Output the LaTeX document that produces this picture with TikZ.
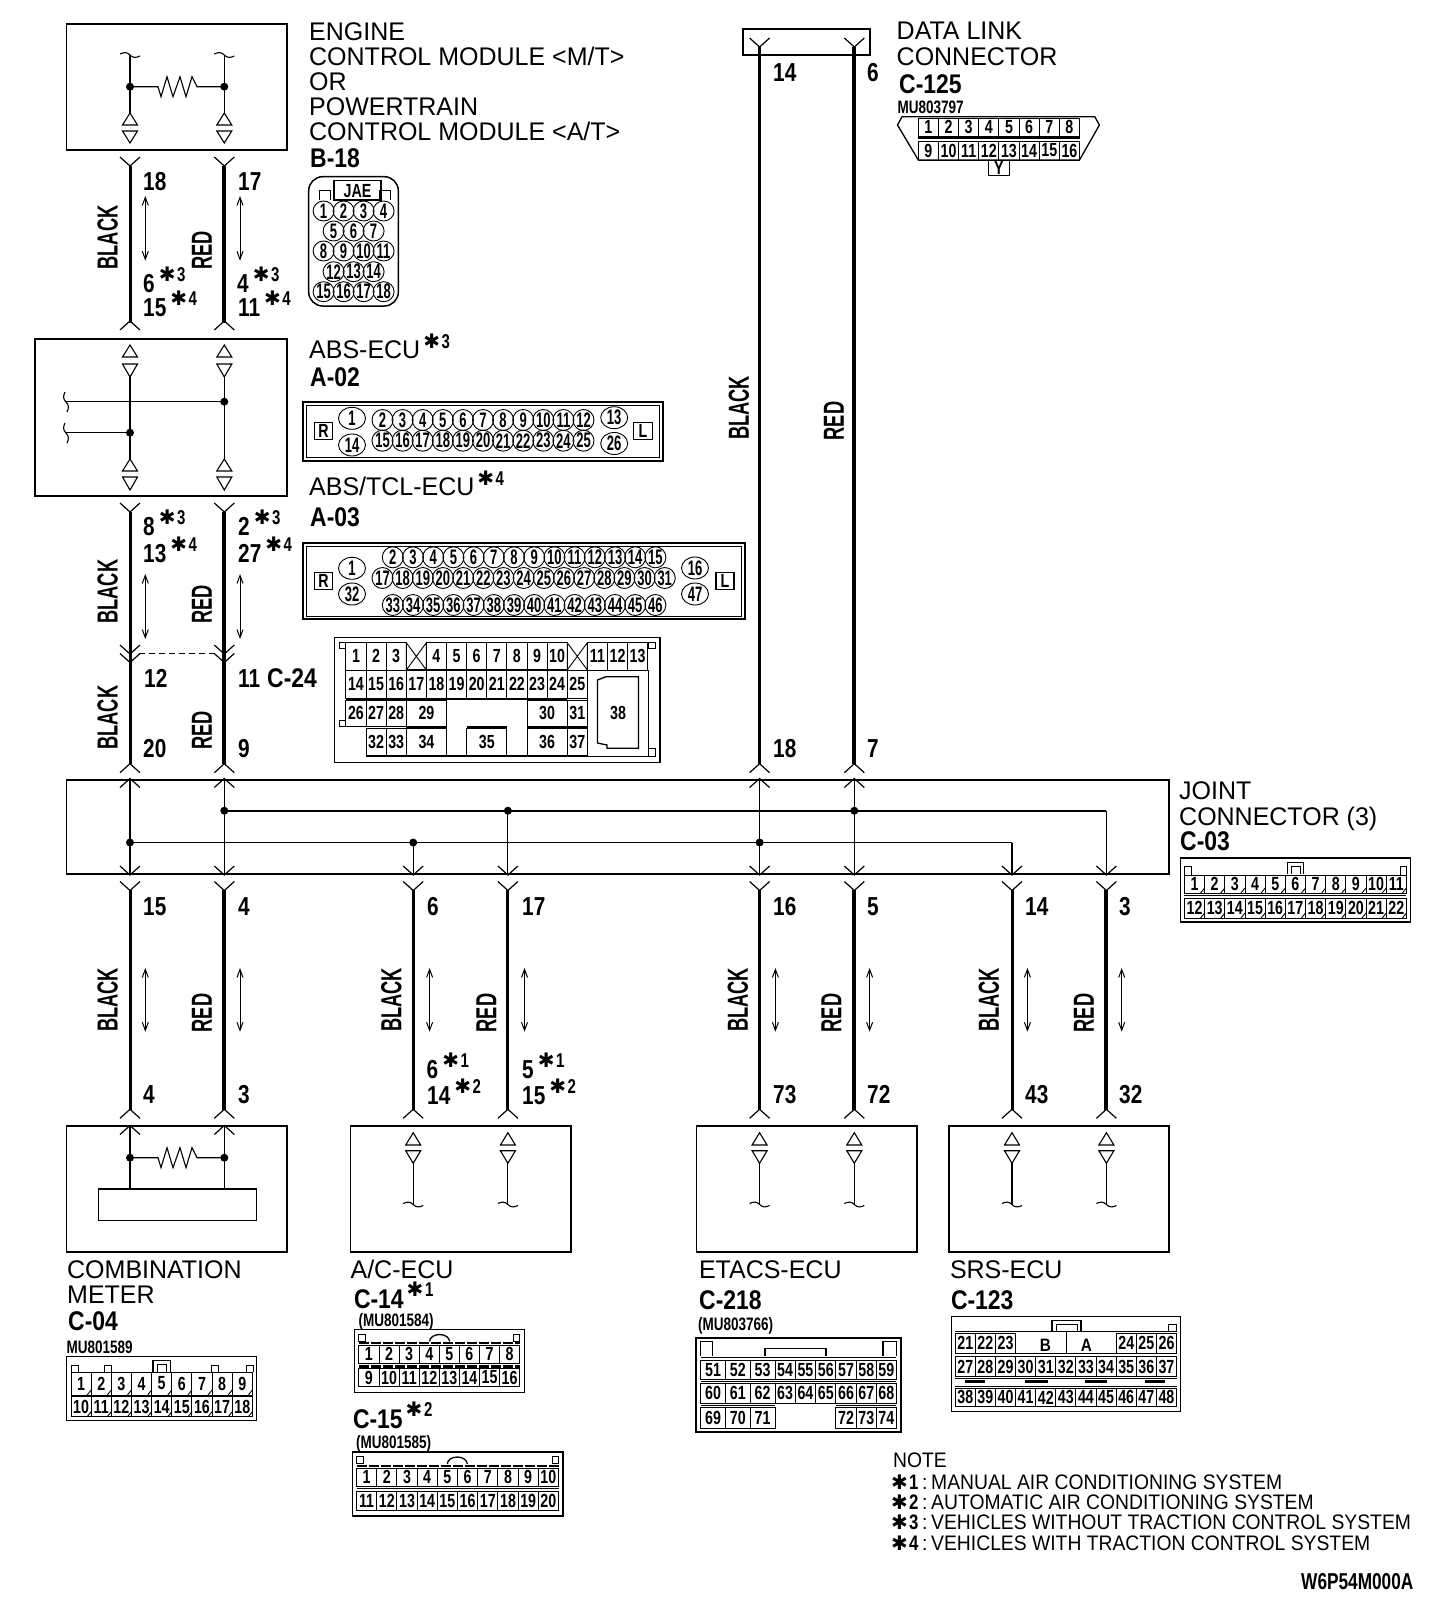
\documentclass[tikz,border=0pt]{standalone}
\usepackage{fontspec}
\setmainfont{Liberation Sans}
\newfontfamily\lblf[FakeStretch=.98]{Liberation Sans}
\newfontfamily\notef[FakeStretch=.92]{Liberation Sans}
\newfontfamily\numf[FakeStretch=.8]{Liberation Sans}
\newfontfamily\wirf[FakeStretch=.63]{Liberation Sans}
\newfontfamily\conf[FakeStretch=.85]{Liberation Sans}
\newfontfamily\pinf[FakeStretch=.75]{Liberation Sans}
\newfontfamily\circf[FakeStretch=.62]{Liberation Sans}
\newfontfamily\starf{DejaVu Sans}
\usetikzlibrary{arrows.meta}
\tikzset{
 box/.style={line width=1.8pt,draw=black},
 thin1/.style={line width=1pt,draw=black},
 cell/.style={line width=.9pt,draw=black},
 bar/.style={line width=2pt,draw=black},
 wk/.style={line width=3pt,draw=black},
 wr/.style={line width=4pt,draw=black},
 inw/.style={line width=1.1pt,draw=black},
 forkl/.style={line width=1.2pt,draw=black},
 lbl/.style={anchor=base west,inner sep=0pt,font=\fontsize{25.5}{25.5}\selectfont\lblf},
 nt/.style={anchor=base west,inner sep=0pt,font=\fontsize{21}{21}\selectfont\notef},
 num/.style={anchor=base west,inner sep=0pt,font=\fontsize{26}{26}\selectfont\numf\bfseries},
 con/.style={anchor=base west,inner sep=0pt,font=\fontsize{27}{27}\selectfont\conf\bfseries},
 mu/.style={anchor=base west,inner sep=0pt,font=\fontsize{18}{18}\selectfont\pinf\bfseries},
 wl/.style={inner sep=0pt,rotate=90,font=\fontsize{29}{29}\selectfont\wirf\bfseries},
 pn/.style={inner sep=0pt,font=\fontsize{19}{19}\selectfont\pinf\bfseries},
 pab/.style={inner sep=0pt,font=\fontsize{18}{18}\selectfont\conf\bfseries},
 pc/.style={inner sep=0pt,font=\fontsize{21}{21}\selectfont\circf\bfseries},
 bi/.style={line width=1pt,draw=black,{Straight Barb[length=8pt,width=6pt]}-{Straight Barb[length=8pt,width=6pt]}},
}
% superscript star + digit
\newcommand{\Sst}[2][11pt]{\raisebox{#1}{\fontsize{20}{20}\selectfont{\starf\symbol{"2731}}\hspace{1.5pt}\fontsize{20}{20}\selectfont\pinf\bfseries #2}}
\newcommand{\ForkDn}[2]{\draw[forkl] (#1-10,#2)--(#1,#2+9)--(#1+10,#2);}
\newcommand{\ForkUp}[2]{\draw[forkl] (#1-10,#2)--(#1,#2-9)--(#1+10,#2);}
\newcommand{\Wire}[5]{\coordinate (#1-a) at (#2,#3);\coordinate (#1-b) at (#2,#4);\draw[#5] (#1-a)--(#1-b);}
\newcommand{\Dot}[2]{\fill (#1,#2) circle (4pt);}
\newcommand{\TriUp}[3]{\draw[inw] (#1,#2)--(#1-7.5,#3)--(#1+7.5,#3)--cycle;}
\newcommand{\TriDn}[3]{\draw[inw] (#1,#3)--(#1-7.5,#2)--(#1+7.5,#2)--cycle;}
\newcommand{\Tilde}[2]{\draw[inw] (#1-10,#2-1) .. controls (#1-6,#2-3) and (#1-3,#2-3) .. (#1,#2) .. controls (#1+3,#2+3) and (#1+6,#2+3) .. (#1+10,#2+1);}
\newcommand{\VTilde}[2]{\draw[inw] (#1-1,#2-10) .. controls (#1-3,#2-6) and (#1-3,#2-3) .. (#1,#2) .. controls (#1+3,#2+3) and (#1+3,#2+6) .. (#1+1,#2+10);}
\newcommand{\Res}[1]{\draw[inw] (130,#1)--(158,#1)--(161,#1+10)--(167,#1-10)--(173,#1+10)--(180,#1-10)--(186,#1+10)--(192,#1-10)--(197,#1)--(224.3,#1);}
% cell rows: prefix,x0,y,pitch,h,first,last
\newcommand{\CellRow}[7]{\foreach \pp [count=\kk from 0] in {#6,...,#7}{\pgfmathsetmacro\xx{#2+\kk*#4}\draw[cell] (\xx,#3) rectangle ++(#4,#5);\node[pn] (#1\pp) at (\xx+#4/2,#3+#5/2) {\pp};}}
% ticks in the lower right corner of cells: x0,y,pitch,n
\newcommand{\Ticks}[4]{\foreach \kk in {1,...,#4}{\pgfmathsetmacro\xx{#1+\kk*#3}\draw[cell] (\xx-4,#2)--(\xx,#2-5);}}
% one cell: name,x,y,w,h,text
\newcommand{\OneCell}[6]{\draw[cell] (#2,#3) rectangle ++(#4,#5);\node[pn] (#1) at (#2+#4/2,#3+#5/2) {#6};}
% circled pins: prefix,x0,y,pitch,rx,ry,first,last
\newcommand{\PinRow}[8]{\foreach \pp [count=\kk from 0] in {#7,...,#8}{\pgfmathsetmacro\xx{#2+\kk*#4}\draw[cell] (\xx,#3) ellipse [x radius=#5,y radius=#6];\node[pc] (#1\pp) at (\xx,#3) {\pp};}}
\newcommand{\BigPin}[4]{\draw[cell] (#2,#3) ellipse [x radius=13.5,y radius=11];\node[pc] (#1) at (#2,#3) {#4};}
\begin{document}
\begin{tikzpicture}[x=1pt,y=-1pt]
\useasboundingbox (0,0) rectangle (1456,1614);
\fill[white] (0,0) rectangle (1456,1614);
%% ---------- device boxes
\draw[box] (66.4,23.7) rectangle (287,150);
\draw[box] (34.8,338.7) rectangle (287,496);
\draw[box] (743,29) rectangle (870,55);
\draw[box] (66.4,780) rectangle (1169,874);
\draw[box] (66.4,1125.7) rectangle (287,1252);
\draw[box] (350.5,1125.7) rectangle (571,1252);
\draw[box] (696.4,1125.7) rectangle (917,1252);
\draw[box] (949,1125.7) rectangle (1169,1252);
%% ---------- ECM box interior
\foreach \xw in {130,224.3}{
 \Tilde{\xw}{55}
 \draw[inw] (\xw,55)--(\xw,113);
 \TriUp{\xw}{113}{125}\TriDn{\xw}{131}{143}
}
\Res{86.7}\Dot{130}{86.7}\Dot{224.3}{86.7}
%% ---------- ABS box interior
\foreach \xw in {130,224.3}{
 \TriUp{\xw}{345}{357}\TriDn{\xw}{364}{377}
 \draw[inw] (\xw,377)--(\xw,459);
 \TriUp{\xw}{459}{471}\TriDn{\xw}{477}{490}
}
\VTilde{66}{402}\VTilde{66}{433}
\draw[inw,line width=1.5pt] (66,401.7)--(224.3,401.7);
\draw[inw,line width=1.5pt] (66,432.7)--(130,432.7);
\Dot{224.3}{401.7}\Dot{130}{432.7}
%% ---------- wires, upper left
\Wire{wa1}{130}{166}{323}{wk}
\Wire{wb1}{224.3}{166}{323}{wr}
\ForkDn{130}{157}\ForkDn{224.3}{157}\ForkUp{130}{330}\ForkUp{224.3}{330}
\Wire{wa2}{130}{512}{764}{wk}
\Wire{wb2}{224.3}{512}{764}{wr}
\ForkDn{130}{503}\ForkDn{224.3}{503}
\foreach \xw in {130,224.3}{\ForkDn{\xw}{645}\ForkDn{\xw}{653.5}\ForkUp{\xw}{772.7}\ForkUp{\xw}{787.5}}
\coordinate (da) at (139,653.7);\coordinate (db) at (218,653.7);
\draw[line width=1.5pt,dash pattern=on 6pt off 4pt] (da)--(db);
%% ---------- data link wires
\Wire{wc0}{759.6}{47}{764}{wk}
\Wire{wd0}{854.3}{47}{764}{wr}
\foreach \xw in {759.6,854.3}{\ForkDn{\xw}{38}\ForkUp{\xw}{772.7}\ForkUp{\xw}{787.5}}
%% ---------- joint interior
\foreach \xw in {130,224.3,759.6,854.3}{\draw[inw] (\xw,780)--(\xw,874);}
\draw[line width=2pt] (224.3,810.7)--(1106.4,810.7);
\draw[inw] (130,842.5)--(1012,842.5);
\draw[inw] (413.2,842.5)--(413.2,874);
\draw[inw] (507.9,810.7)--(507.9,874);
\draw[inw] (1012,842.5)--(1012,874);
\draw[inw] (1106.4,810.7)--(1106.4,874);
\Dot{224.3}{810.7}\Dot{507.9}{810.7}\Dot{854.3}{810.7}
\Dot{130}{842.5}\Dot{413.2}{842.5}\Dot{759.6}{842.5}
%% ---------- lower wires
\foreach \xw/\st/\nm in {130/wk/l1,224.3/wr/l2,413.2/wk/l3,507.9/wk/l4,759.6/wk/l5,854.3/wr/l6,1012/wk/l7,1106.4/wr/l8}{
 \ForkDn{\xw}{866}\ForkDn{\xw}{881.5}
 \Wire{\nm}{\xw}{890}{1110}{\st}
 \ForkUp{\xw}{1118.3}
}
\foreach \xw in {130,224.3}{\ForkUp{\xw}{1134.5}\draw[inw] (\xw,1126)--(\xw,1189);}
\Res{1157.7}\Dot{130}{1157.7}\Dot{224.3}{1157.7}
\draw[box,line width=1.5pt] (98.4,1189) rectangle (256.3,1220.3);
\foreach \xw in {413.2,507.9,759.6,854.3,1012,1106.4}{
 \TriUp{\xw}{1132.7}{1145}\TriDn{\xw}{1150.7}{1163.3}
 \draw[inw] (\xw,1163)--(\xw,1204.5);
 \Tilde{\xw}{1204.5}
}
%% ---------- direction arrows
\foreach \xa/\ya/\yb in {145.3/196/260.7,240/196/260.7,145.3/574/639,240/574/639,
 145.3/968/1031.7,240/968/1031.7,429.6/968/1031.7,524.5/968/1031.7,
 775.4/968/1031.7,869.6/968/1031.7,1027.4/968/1031.7,1121.7/968/1031.7}{
 \draw[bi] (\xa,\ya)--(\xa,\yb);}
%% ---------- wire colours
\foreach \xa/\ya/\tx in {107.7/237.5/BLACK,202/250.6/RED,107.7/591.6/BLACK,202/604.6/RED,
 107.7/717.6/BLACK,202/730.6/RED,739/408/BLACK,834/421/RED,
 107.7/1000/BLACK,202/1013/RED,391.5/1000/BLACK,486.5/1013/RED,
 738/1000/BLACK,831.5/1013/RED,989/1000/BLACK,1084/1013/RED}{
 \node[wl] (cl\xa-\ya) at (\xa,\ya) {\tx};}
%% ---------- pin numbers on wires
\node[num] (n1) at (143,190.7) {18};
\node[num] (n2) at (238,190.7) {17};
\node[num] (n3) at (143,292) {6\hspace{4pt}\Sst{3}};
\node[num] (n4) at (143,316) {15\hspace{4pt}\Sst{4}};
\node[num] (n5) at (237,292) {4\hspace{4pt}\Sst{3}};
\node[num] (n6) at (238,316) {11\hspace{4pt}\Sst{4}};
\node[num] (n7) at (143,535.7) {8\hspace{4pt}\Sst{3}};
\node[num] (n8) at (143,562.7) {13\hspace{4pt}\Sst{4}};
\node[num] (n9) at (238,535.7) {2\hspace{4pt}\Sst{3}};
\node[num] (n10) at (238,562.7) {27\hspace{4pt}\Sst{4}};
\node[num] (n11) at (144,687) {12};
\node[num] (n12) at (238,687) {11};
\node[con] (c24) at (267,687) {C-24};
\node[num] (n13) at (143,757.5) {20};
\node[num] (n14) at (238,757.5) {9};
\node[num] (n15) at (773,81) {14};
\node[num] (n16) at (867,81) {6};
\node[num] (n17) at (773,757.5) {18};
\node[num] (n18) at (867,757.5) {7};
\foreach \xa/\tx/\nm in {143/15/a,238/4/b,427/6/c,522/17/d,773/16/e,867/5/f,1025/14/g,1119/3/h}{
 \node[num] (u\nm) at (\xa,915) {\tx};}
\foreach \xa/\tx/\nm in {143/4/a,238/3/b,773/73/e,867/72/f,1025/43/g,1119/32/h}{
 \node[num] (v\nm) at (\xa,1103) {\tx};}
\node[num] (n19) at (426.5,1078.5) {6\hspace{4pt}\Sst{1}};
\node[num] (n20) at (427,1104) {14\hspace{4pt}\Sst{2}};
\node[num] (n21) at (522,1078.5) {5\hspace{4pt}\Sst{1}};
\node[num] (n22) at (522,1104) {15\hspace{4pt}\Sst{2}};
%% ---------- device titles
\node[lbl] (t1) at (309,40) {ENGINE};
\node[lbl] (t2) at (309,65) {CONTROL MODULE <M/T>};
\node[lbl] (t3) at (309,90) {OR};
\node[lbl] (t4) at (309,115) {POWERTRAIN};
\node[lbl] (t5) at (309,140) {CONTROL MODULE <A/T>};
\node[con] (t6) at (310,167) {B-18};
\node[lbl] (t7) at (309,358) {ABS-ECU\hspace{3pt}\Sst[10pt]{3}};
\node[con] (t8) at (310,386.7) {A-02};
\node[lbl] (t9) at (309,495) {ABS/TCL-ECU\hspace{3pt}\Sst[10pt]{4}};
\node[con] (t10) at (310,526.7) {A-03};
\node[lbl] (t11) at (896.5,39) {DATA LINK};
\node[lbl] (t12) at (896.5,65) {CONNECTOR};
\node[con] (t13) at (899,93) {C-125};
\node[mu] (t14) at (897.5,113) {MU803797};
\node[lbl] (t15) at (1179,799) {JOINT};
\node[lbl] (t16) at (1179,825) {CONNECTOR (3)};
\node[con] (t17) at (1180,850) {C-03};
\node[lbl] (t18) at (67,1278) {COMBINATION};
\node[lbl] (t19) at (67,1303) {METER};
\node[con] (t20) at (68,1330) {C-04};
\node[mu] (t21) at (66.4,1353.3) {MU801589};
\node[lbl] (t22) at (350.4,1278) {A/C-ECU};
\node[con] (t23) at (353.8,1308) {C-14\hspace{3pt}\Sst[12pt]{1}};
\node[mu] (t24) at (358.4,1326) {(MU801584)};
\node[con] (t25) at (352.8,1428.3) {C-15\hspace{3pt}\Sst[12pt]{2}};
\node[mu] (t26) at (356,1448.3) {(MU801585)};
\node[lbl] (t27) at (698.8,1278) {ETACS-ECU};
\node[con] (t28) at (699,1309) {C-218};
\node[mu] (t29) at (698,1330) {(MU803766)};
\node[lbl] (t30) at (949.8,1278) {SRS-ECU};
\node[con] (t31) at (950.8,1309) {C-123};
%% ---------- B-18 connector
\draw[box,line width=1.5pt,rounded corners=14pt] (308.7,176.7) rectangle (398.3,306);
\draw[cell,line width=1.3pt] (334,180.7) rectangle (381,200);
\node[pn] (jae) at (357.5,191) {JAE};
\draw[cell] (319.4,200)--(319.4,190.7)--(330.5,190.7)--(330.5,200);
\draw[cell] (379,200)--(379,190.7)--(390,190.7)--(390,200);
\PinRow{ba}{323.6}{211}{20}{10.5}{10}{1}{4}
\PinRow{ba}{333.6}{231}{20}{10.5}{10}{5}{7}
\PinRow{ba}{323.6}{251}{20}{10.5}{10}{8}{11}
\PinRow{ba}{333.6}{271.7}{20}{10.5}{10}{12}{14}
\PinRow{ba}{323.6}{291.7}{20}{10.5}{10}{15}{18}
%% ---------- A-02 connector
\draw[box] (302.7,401.7) rectangle (663,460.7);
\draw[cell] (306,405) rectangle (659.7,457.4);
\draw[cell,line width=1.3pt] (314.8,422.7) rectangle (332.4,439.3);\node[pn] (a2r) at (323.6,431) {R};
\draw[cell,line width=1.3pt] (633.7,422.7) rectangle (652.3,439.3);\node[pn] (a2l) at (643,431) {L};
\BigPin{a21}{352}{418.3}{1}\BigPin{a214}{352}{445}{14}
\BigPin{a213}{614.2}{417.7}{13}\BigPin{a226}{614.2}{443.5}{26}
\PinRow{aa}{382.5}{420}{20.1}{10.5}{10.5}{2}{12}
\PinRow{aa}{382.5}{440.7}{20.1}{10.5}{10.5}{15}{25}
%% ---------- A-03 connector
\draw[box] (302.7,543.3) rectangle (745,619.3);
\draw[cell] (306,546.6) rectangle (741.7,616);
\draw[cell,line width=1.3pt] (314.8,572.7) rectangle (332.4,589.3);\node[pn] (a3r) at (323.6,581) {R};
\draw[cell,line width=1.3pt] (716,572.7) rectangle (734,589.3);\node[pn] (a3l) at (725,581) {L};
\BigPin{a31}{352}{568.3}{1}\BigPin{a332}{352}{594}{32}
\BigPin{a316}{695}{568}{16}\BigPin{a347}{695}{594}{47}
\PinRow{ab}{392.8}{557.3}{20.2}{10.5}{10.5}{2}{15}
\PinRow{ab}{382.5}{578}{20.16}{10.5}{10.5}{17}{31}
\PinRow{ab}{392.8}{605}{20.2}{10.5}{10.5}{33}{46}
%% ---------- C-24 connector
\draw[box,line width=1.3pt] (334.3,637.7) rectangle (660,762.3);
\foreach \kk/\tx in {0/1,1/2,2/3,4/4,5/5,6/6,7/7,8/8,9/9,10/10,12/11,13/12,14/13}{
 \pgfmathsetmacro\xx{345.9+\kk*20.12}\OneCell{ca\tx}{\xx}{642.7}{20.12}{27.3}{\tx}}
\foreach \kk in {3,11}{\pgfmathsetmacro\xx{345.9+\kk*20.12}
 \draw[cell] (\xx,642.7)--(\xx+20.12,670) (\xx+20.12,642.7)--(\xx,670) (\xx,642.7)--(\xx,670) (\xx+20.12,642.7)--(\xx+20.12,670);}
\foreach \kk/\tx in {0/14,1/15,2/16,3/17,4/18,5/19,6/20,7/21,8/22,9/23,10/24,11/25}{
 \pgfmathsetmacro\xx{345.9+\kk*20.12}\OneCell{ca\tx}{\xx}{670.7}{20.12}{27.3}{\tx}}
\foreach \kk/\tx in {0/26,1/27,2/28,11/31}{
 \pgfmathsetmacro\xx{345.9+\kk*20.12}\OneCell{ca\tx}{\xx}{700}{20.12}{26.7}{\tx}}
\foreach \kk/\tx in {1/32,2/33,11/37}{
 \pgfmathsetmacro\xx{345.9+\kk*20.12}\OneCell{ca\tx}{\xx}{728}{20.12}{27}{\tx}}
\OneCell{ca29}{406.3}{700}{40.24}{26.7}{29}
\OneCell{ca30}{527}{700}{40.24}{26.7}{30}
\OneCell{ca34}{406.3}{728}{40.24}{27}{34}
\OneCell{ca35}{466.7}{728}{40.24}{27}{35}
\OneCell{ca36}{527}{728}{40.24}{27}{36}
\draw[bar] (345.9,699)--(567.3,699) (406.3,727)--(446.6,727) (527,727)--(587.4,727) (466.7,727)--(507,727);
\draw[bar] (406.3,670)--(567.3,670) (366,755.5)--(587.4,755.5);
\draw[cell] (339,642.7) rectangle (345.9,648) (648,642.7) rectangle (655.5,648) (339,720) rectangle (345.9,726.7) (648,748) rectangle (655.5,756.7);
\draw[cell] (587.4,670.7) rectangle (648.6,756.7);
\draw[cell,line width=1.3pt] (597.5,680)--(606,676.7)--(638.4,676.7)--(638.4,748.3)--(607,748.3)--(607,745)--(597.5,743)--cycle;
\node[pn] (ca38) at (618,713) {38};
%% ---------- C-125 connector
\draw[box,line width=1.3pt] (918.3,160)--(1079.5,160)--(1099.4,125)--(1094.8,116.7)--(902,116.7)--(897.5,125)--cycle;
\CellRow{dl}{918.3}{118}{20.15}{18}{1}{8}
\CellRow{dl}{918.3}{141}{20.15}{19}{9}{16}
\draw[bar,line width=1.5pt] (918.3,138)--(1079.5,138);
\OneCell{dly}{988.8}{160}{20.15}{15}{Y}
%% ---------- C-03 connector
\draw[box,line width=1.3pt] (1180.6,858) rectangle (1410.5,922);
\CellRow{ja}{1184.4}{875}{20.18}{18}{1}{11}
\CellRow{ja}{1184.4}{898}{20.18}{20}{12}{22}
\Ticks{1184.4}{893}{20.18}{11}\Ticks{1184.4}{918}{20.18}{11}
\draw[bar,line width=1.5pt] (1184.4,895.5)--(1406.4,895.5);
\draw[cell,line width=1.3pt] (1287.4,874)--(1287.4,862.7)--(1303.7,862.7)--(1303.7,874);
\draw[cell] (1291,874)--(1291,866)--(1300,866)--(1300,874);
\draw[cell] (1184.4,875) rectangle (1191,866.5) (1400,875) rectangle (1406.4,866.5);
%% ---------- C-04 connector
\draw[box,line width=1.3pt] (66.4,1356.7) rectangle (256.7,1420.7);
\CellRow{me}{71}{1372}{20.15}{23}{1}{9}
\CellRow{me}{71}{1396.7}{20.15}{20}{10}{18}
\Ticks{71}{1395}{20.15}{9}\Ticks{71}{1416.7}{20.15}{9}
\draw[cell,line width=1.3pt] (153,1372)--(153,1360.7)--(170.5,1360.7)--(170.5,1372);
\draw[cell] (157,1372)--(157,1364)--(166,1364)--(166,1372);
\foreach \xx in {71,104.5,211.5,246}{\draw[cell] (\xx,1372)--(\xx,1365.7)--(\xx+7,1365.7)--(\xx+7,1372);}
%% ---------- C-14 connector
\draw[box,line width=1.3pt] (354.2,1329.3) rectangle (524.6,1392.7);
\CellRow{ac}{358.9}{1345}{20.1}{18.3}{1}{8}
\CellRow{ac}{358.9}{1368.3}{20.1}{18.4}{9}{16}
\draw[bar,line width=2.5pt,dash pattern=on 10pt off 2pt] (358.9,1343)--(520,1343) (358.9,1366.5)--(520,1366.5);
\draw[cell] (358.9,1341) rectangle (365.5,1334.3) (513,1341) rectangle (519.6,1334.3);
\draw[cell,line width=1.3pt] (429.6,1341.5) arc[start angle=180,end angle=360,x radius=10,y radius=7];
%% ---------- C-15 connector
\draw[box] (352.4,1451.7) rectangle (562.7,1515.7);
\CellRow{ad}{356.5}{1468.3}{20.2}{17.7}{1}{10}
\CellRow{ad}{356.5}{1491.7}{20.2}{18.3}{11}{20}
\draw[bar,line width=2.5pt,dash pattern=on 10pt off 2pt] (356.5,1466)--(558.5,1466);
\draw[bar,line width=1.5pt] (356.5,1488.5)--(558.5,1488.5);
\draw[cell] (356.5,1463.5) rectangle (363,1456.7) (552,1463.5) rectangle (558.5,1456.7);
\draw[cell,line width=1.3pt] (447.3,1464) arc[start angle=180,end angle=360,x radius=10,y radius=7];
%% ---------- C-218 connector
\draw[box] (695.8,1337.7) rectangle (900.8,1431.7);
\foreach \r/\yy/\hh/\aa in {0/1360/19.3/51,1/1383.3/20/60}{
 \foreach \k/\xa/\ww in {0/700.8/24.7,1/725.5/24.8,2/750.3/24.7,3/775/20.3,4/795.3/20.3,5/815.6/20.3,6/835.9/20.3,7/856.2/20.3,8/876.5/19.8}{
  \pgfmathtruncatemacro\tx{\aa+\k}\OneCell{ce\tx}{\xa}{\yy}{\ww}{\hh}{\tx}}}
\foreach \xa/\ww/\tx in {700.8/24.7/69,725.5/24.8/70,750.3/24.7/71,835.9/20.3/72,856.2/20.3/73,876.5/19.8/74}{
 \OneCell{ce\tx}{\xa}{1407.3}{\ww}{21}{\tx}}
\draw[bar,line width=1.5pt] (700.8,1357.5)--(896.3,1357.5) (700.8,1381.3)--(896.3,1381.3) (700.8,1405.3)--(775,1405.3) (835.9,1405.3)--(896.3,1405.3);
\draw[cell,line width=1.3pt] (700.8,1355.5)--(700.8,1341.7)--(712.2,1341.7)--(712.2,1355.5);
\draw[cell,line width=1.3pt] (883,1355.5)--(883,1341.7)--(896.3,1341.7)--(896.3,1355.5);
\draw[cell,line width=1.3pt] (765,1355.5)--(765,1348.3)--(826,1348.3)--(826,1355.5);
%% ---------- C-123 connector
\draw[box,line width=1.3pt] (951.3,1316.7) rectangle (1180.5,1411.7);
\CellRow{sa}{955.2}{1333}{20.12}{20}{21}{23}
\CellRow{sa}{1116.2}{1333}{20.12}{20}{24}{26}
\CellRow{sa}{955.2}{1356.7}{20.12}{20}{27}{37}
\CellRow{sa}{955.2}{1388}{20.12}{18.7}{38}{48}
\draw[bar,line width=1.3pt] (955.2,1331.5)--(1176.5,1331.5);
\draw[cell] (1015.6,1333)--(1015.6,1353)--(1116.2,1353)--(1116.2,1333) (1066,1331.5)--(1066,1353);
\node[pab] (sb) at (1045.5,1345.5) {B};
\node[pab] (sc) at (1086.5,1345.5) {A};
\draw[cell,line width=1.3pt] (1052,1331.5)--(1052,1320.7)--(1081,1320.7)--(1081,1331.5);
\draw[cell] (1056,1331.5)--(1056,1324)--(1077,1324)--(1077,1331.5);
\draw[cell] (1168,1331.5) rectangle (1176,1324.5);
\draw[cell] (955.2,1378.5)--(1176.5,1378.5) (955.2,1386.5)--(1176.5,1386.5);
\draw[line width=3pt] (965,1381)--(985,1381) (1025,1381)--(1048,1381) (1085,1381)--(1107,1381) (1145,1381)--(1165,1381);
%% ---------- note
\node[nt] (nh) at (893,1467) {NOTE};
\foreach \yy/\d/\tx/\nm in {1489/1/MANUAL AIR CONDITIONING SYSTEM/a,1509/2/AUTOMATIC AIR CONDITIONING SYSTEM/b,1529.5/3/VEHICLES WITHOUT TRACTION CONTROL SYSTEM/c,1550/4/VEHICLES WITH TRACTION CONTROL SYSTEM/d}{
 \node[anchor=base west,inner sep=0pt,font=\fontsize{20}{20}\selectfont\starf] (ns\nm) at (891,\yy) {\symbol{"2731}};
 \node[anchor=base west,inner sep=0pt,font=\fontsize{21}{21}\selectfont\numf\bfseries] (nd\nm) at (909,\yy) {\d};
 \node[nt] (nc\nm) at (922,\yy) {:};
 \node[nt] (nt\nm) at (931,\yy) {\tx};
}
\node[anchor=base west,inner sep=0pt,font=\fontsize{23}{23}\selectfont\pinf\bfseries] (wm) at (1301,1589.3) {W6P54M000A};
\end{tikzpicture}
\end{document}
